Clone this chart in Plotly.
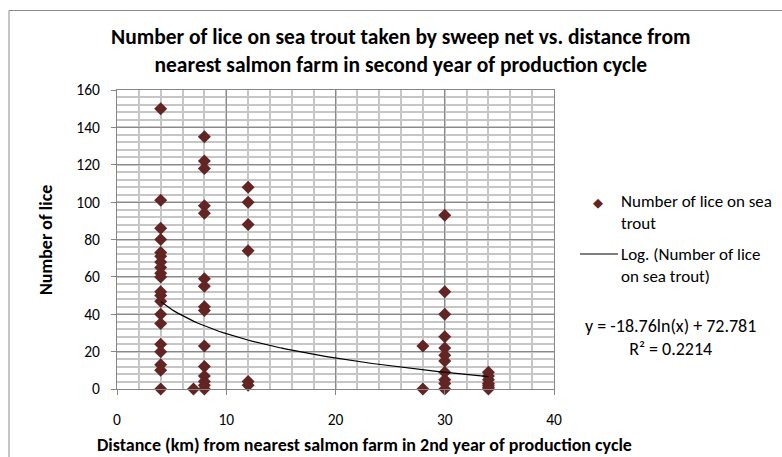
import numpy as np
import plotly.graph_objects as go

# ---- data ----
dist_km = ([4]*20 + [7] + [8]*15 + [12]*6 + [28]*2 + [30]*11 + [34]*7)
lice = ([150, 101, 86, 80, 73, 71, 68, 65, 62, 60, 52, 50, 47, 40, 35, 24, 20, 13, 10, 0]
        + [0]
        + [135, 122, 118, 98, 94, 59, 55, 44, 42, 23, 12, 7, 4, 2, 0]
        + [108, 100, 88, 74, 4, 2]
        + [23, 0]
        + [93, 52, 40, 28, 22, 18, 15, 9, 5, 3, 0]
        + [9, 7, 5, 3, 2, 1, 0])

# log trendline coefficients shown on the chart
trend_a = -18.76
trend_b = 72.781
r_squared = 0.2214

x_ticks = [0, 10, 20, 30, 40]
y_ticks = [0, 20, 40, 60, 80, 100, 120, 140, 160]

title_text = ("Number of lice on sea trout taken by sweep net vs. distance from<br>"
              "nearest salmon farm in second year of production cycle")
x_title = "Distance (km) from nearest salmon farm in 2nd year of production cycle"
y_title = "Number of lice"
legend_points = "Number of lice on sea<br>trout"
legend_line = "Log. (Number of lice<br>on sea trout)"

MARKER = "#632523"
FONT = "Carlito, Lato, sans-serif"

# plot area geometry (pixels)
W, H = 782, 457
L, R, T, B = 117, 554, 90, 389


def px(xp):
    return (xp - L) / (R - L)


def py(yp):
    return (B - yp) / (B - T)


tx = np.linspace(min(dist_km), max(dist_km), 80)
ty = trend_a * np.log(tx) + trend_b

fig = go.Figure()
fig.add_trace(go.Scatter(
    x=dist_km, y=lice, mode="markers", cliponaxis=False,
    marker=dict(symbol="diamond", size=10, color=MARKER, line=dict(width=0)),
    showlegend=False))
fig.add_trace(go.Scatter(
    x=tx, y=ty, mode="lines", line=dict(color="black", width=1.2),
    showlegend=False, cliponaxis=False))

fig.update_layout(
    width=W, height=H,
    margin=dict(l=L, r=W - R, t=T, b=H - B, autoexpand=False),
    paper_bgcolor="white", plot_bgcolor="white",
    font=dict(family=FONT, size=15, color="black"),
)

fig.update_xaxes(
    range=[0, 40], tickvals=x_ticks, ticks="outside", ticklen=5,
    tickcolor="#868686", showline=True, linecolor="#868686", linewidth=1,
    showgrid=True, gridcolor="#8a8a8a", gridwidth=1, zeroline=False,
    mirror=True, automargin=False,
    minor=dict(dtick=2, showgrid=True, gridcolor="#c6c6c6", gridwidth=1.5, ticklen=0),
    tickfont=dict(family=FONT, size=15.5), ticklabelstandoff=11,
)
fig.update_yaxes(
    range=[0, 160], tickvals=y_ticks, ticks="outside", ticklen=5,
    tickcolor="#868686", showline=True, linecolor="#868686", linewidth=1,
    showgrid=True, gridcolor="#8a8a8a", gridwidth=1, zeroline=False,
    mirror=True, automargin=False,
    minor=dict(dtick=4, showgrid=True, gridcolor="#c6c6c6", gridwidth=1.5, ticklen=0),
    tickfont=dict(family=FONT, size=15.5), ticklabelstandoff=8,
)

# axis titles
fig.add_annotation(text="<b>" + x_title + "</b>", xref="paper", yref="paper",
                   x=px(364), y=py(445), xanchor="center", yanchor="middle",
                   showarrow=False, font=dict(family=FONT, size=18))
fig.add_annotation(text="<b>" + y_title + "</b>", xref="paper", yref="paper",
                   x=px(46), y=py(240), xanchor="center", yanchor="middle",
                   textangle=-90, showarrow=False, font=dict(family=FONT, size=18))

# chart title
fig.add_annotation(
    text="<b>" + title_text + "</b>", xref="paper", yref="paper",
    x=px(401), y=py(51), xanchor="center", yanchor="middle", showarrow=False,
    font=dict(family=FONT, size=21.5), align="center")

# chart frame
fig.add_shape(type="rect", xref="paper", yref="paper",
              x0=px(9), y0=py(480), x1=px(800), y1=py(10.5),
              line=dict(color="#8c8c8c", width=1), layer="below")

# legend (manual)
fig.add_annotation(text="◆", xref="paper", yref="paper", x=px(598), y=py(202),
                   xanchor="center", yanchor="middle", showarrow=False,
                   font=dict(family="DejaVu Sans", size=13, color=MARKER))
fig.add_annotation(text=legend_points, xref="paper", yref="paper", x=px(619), y=py(212),
                   xanchor="left", yanchor="middle", showarrow=False, align="left",
                   font=dict(family=FONT, size=17))
fig.add_shape(type="line", xref="paper", yref="paper",
              x0=px(580), x1=px(618), y0=py(254), y1=py(254),
              line=dict(color="black", width=1.2))
fig.add_annotation(text=legend_line, xref="paper", yref="paper", x=px(619), y=py(265),
                   xanchor="left", yanchor="middle", showarrow=False, align="left",
                   font=dict(family=FONT, size=17))
eq = "y = %.2fln(x) + %.3f<br>R² = %.4f" % (trend_a, trend_b, r_squared)
fig.add_annotation(text=eq, xref="paper", yref="paper", x=px(670), y=py(337),
                   xanchor="center", yanchor="middle", showarrow=False, align="center",
                   font=dict(family=FONT, size=18))

fig.write_html("out.html",
               config={"displayModeBar": False},
               post_script="document.body.style.margin='0';"
                           "document.body.style.overflow='hidden';")
